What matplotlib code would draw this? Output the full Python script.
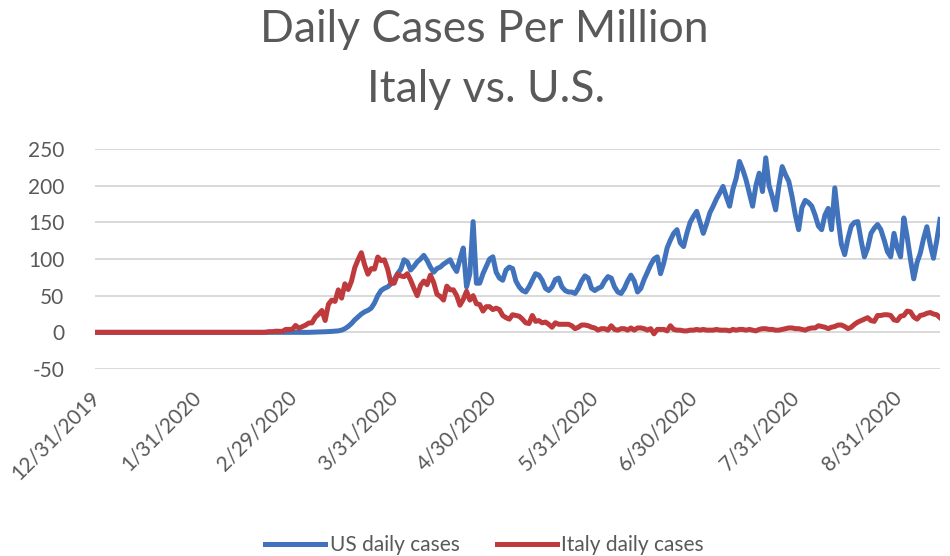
import matplotlib
matplotlib.use("Agg")
import matplotlib.pyplot as plt
import matplotlib.transforms as mtransforms
import pandas as pd

# daily cases per million, one value per day starting 12/31/2019
us_daily = [
    0, 0, 0, 0, 0, 0, 0, 0, 0, 0,
    0, 0, 0, 0, 0, 0, 0, 0, 0, 0,
    0, 0, 0, 0, 0, 0, 0, 0, 0, 0,
    0, 0, 0, 0, 0, 0, 0, 0, 0, 0,
    0, 0, 0, 0, 0, 0, 0, 0, 0, 0,
    0, 0, 0, 0, 0, 0, 0, 0, 0, 0,
    0, 0, 0, 0, 0, 0, 0.2, 0.3, 0.5, 0.6,
    0.8, 1, 1.3, 1.6, 2, 3, 5, 8, 12, 17,
    21, 25, 28, 30, 33, 40, 50, 57, 60, 62,
    66, 72, 80, 86, 99, 96, 85, 90, 96, 100,
    105, 98, 89, 82, 87, 89, 93, 96, 99, 90,
    83, 100, 115, 62, 80, 151, 67, 67, 80, 90,
    100, 103, 82, 74, 71, 85, 89, 87, 70, 62,
    57, 55, 62, 71, 80, 78, 71, 60, 57, 62,
    72, 74, 62, 57, 55, 55, 53, 60, 70, 77,
    74, 60, 57, 60, 62, 70, 76, 74, 62, 55,
    53, 60, 70, 78, 70, 55, 60, 72, 82, 92,
    100, 103, 80, 95, 115, 126, 135, 140, 122, 117,
    135, 150, 158, 165, 150, 135, 148, 163, 172, 182,
    190, 199, 185, 172, 195, 210, 233, 222, 208, 190,
    172, 200, 217, 192, 238, 200, 185, 167, 200, 226,
    215, 206, 185, 160, 140, 170, 180, 177, 172, 160,
    145, 140, 160, 169, 140, 197, 155, 120, 106, 128,
    145, 150, 151, 125, 103, 115, 135, 142, 147, 140,
    126, 110, 103, 135, 115, 103, 156, 130, 100, 73,
    95, 108, 128, 144, 120, 101, 125, 154,
]

italy_daily = [
    0, 0, 0, 0, 0, 0, 0, 0, 0, 0,
    0, 0, 0, 0, 0, 0, 0, 0, 0, 0,
    0, 0, 0, 0, 0, 0, 0, 0, 0, 0,
    0, 0, 0, 0, 0, 0, 0, 0, 0, 0,
    0, 0, 0, 0, 0, 0, 0, 0, 0, 0,
    0, 0, 0.2, 1, 0.9, 1.6, 1.5, 1.3, 4, 4,
    4, 9.4, 5.7, 7.7, 9.7, 12.7, 12.9, 20.6, 24.7, 29.8,
    16.2, 38.3, 43.9, 42.2, 57.9, 46.7, 66.2, 58.4, 69.7, 88.1,
    99.1, 108.6, 92, 79.3, 86.9, 86.3, 102.7, 97.8, 98.9, 86.4,
    67, 67, 79, 77, 76, 80, 71, 60, 50, 64,
    70, 65, 78, 68, 52, 49, 44, 63, 58, 58,
    50, 37, 45, 56, 44, 50, 39, 38, 29, 35,
    35, 31, 33, 31, 23, 20, 18, 24, 23, 22,
    18, 13, 12, 23, 15, 16, 13, 14, 11, 7,
    13, 11, 11, 11, 11, 9, 5, 7, 10, 10,
    9, 7, 6, 3, 5, 5, 3, 9, 4, 3,
    5, 5, 3, 6, 3, 6, 6, 5, 3, 5,
    -2, 4, 4, 4, 2, 9, 4, 3, 3, 2,
    2, 3, 3, 4, 3, 4, 3, 3, 3, 4,
    3, 3, 3, 2, 4, 3, 4, 4, 3, 4,
    3, 2, 4, 5, 5, 4, 4, 3, 3, 4,
    5, 6, 6, 5, 5, 4, 3, 5, 6, 6,
    9, 8, 7, 5, 7, 8, 10, 10, 8, 5,
    7, 11, 14, 16, 18, 20, 16, 15, 23, 23,
    24, 24, 23, 17, 16, 22, 23, 29, 28, 21,
    18, 23, 24, 26, 27, 25, 24, 20,
]

start_date = "2019-12-31"
tick_dates = ["2019-12-31", "2020-01-31", "2020-02-29", "2020-03-31", "2020-04-30",
              "2020-05-31", "2020-06-30", "2020-07-31", "2020-08-31"]
y_ticks = [-50, 0, 50, 100, 150, 200, 250]

days = pd.date_range(start_date, periods=len(us_daily), freq="D")

plt.rcParams['font.family'] = ['Lato', 'DejaVu Sans']
plt.rcParams['axes.unicode_minus'] = False
txt = '#595959'

fig = plt.figure(figsize=(9.5, 5.56), dpi=100)
ax = fig.add_axes([0.1, 0.3363, 0.8895, 0.3957])

ax.plot(days, us_daily, color='#4173BD', lw=3.6, label='US daily cases', solid_joinstyle='round')
ax.plot(days, italy_daily, color='#BE3A3C', lw=3.6, label='Italy daily cases', solid_joinstyle='round')

ax.set_xlim(days[0], days[-1])
ax.set_ylim(-50, 250)
ax.set_yticks(y_ticks)
ax.grid(axis='y', color='#D9D9D9', lw=1.4)
ax.set_axisbelow(True)
for s in ax.spines.values():
    s.set_visible(False)

ticks = pd.to_datetime(tick_dates)
ax.set_xticks(ticks)
ax.set_xticklabels([f"{t.month}/{t.day}/{t.year}" for t in ticks])
ax.tick_params(axis='both', length=0, labelsize=15, labelcolor=txt)
ax.tick_params(axis='y', pad=22)
ax.tick_params(axis='x', pad=13)
shift = mtransforms.ScaledTranslation(-6 / 100, 0, fig.dpi_scale_trans)
for lab in ax.get_xticklabels():
    lab.set_rotation(45)
    lab.set_ha('right')
    lab.set_va('top')
    lab.set_rotation_mode('anchor')
    lab.set_transform(lab.get_transform() + shift)

fig.text(484/950, 1 - 42/556, 'Daily Cases Per Million', ha='center', va='baseline',
         fontsize=32, color=txt)
fig.text(486/950, 1 - 102/556, 'Italy vs. U.S.', ha='center', va='baseline',
         fontsize=32, color=txt)

fig.legend(loc='center', bbox_to_anchor=(0.51, 0.02), ncol=2, frameon=False,
           fontsize=15, labelcolor=txt, handlelength=2.9, handletextpad=0.2,
           columnspacing=1.8)

fig.savefig('out.png', dpi=100)
